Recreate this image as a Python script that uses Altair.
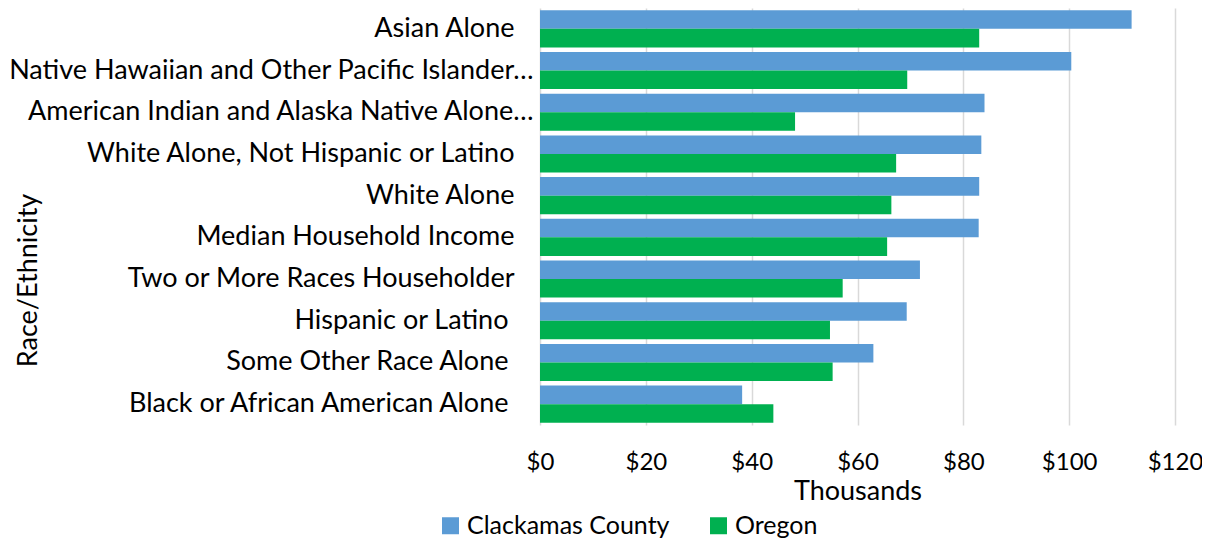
import altair as alt
import pandas as pd

categories = [
    "Asian Alone",
    "Native Hawaiian and Other Pacific Islander…",
    "American Indian and Alaska Native Alone…",
    "White Alone, Not Hispanic or Latino",
    "White Alone",
    "Median Household Income",
    "Two or More Races Householder",
    "Hispanic or Latino",
    "Some Other Race Alone",
    "Black or African American Alone",
]
clackamas = [111.8, 100.4, 84.0, 83.4, 83.0, 82.9, 71.8, 69.3, 63.0, 38.2]
oregon = [83.0, 69.4, 48.2, 67.3, 66.4, 65.6, 57.2, 54.8, 55.3, 44.1]
series = ["Clackamas County", "Oregon"]
colors = ["#5B9BD5", "#00B050"]
x_ticks = [0, 20, 40, 60, 80, 100, 120]

truncated = ["Native Hawaiian and Other Pacific Islander…", "American Indian and Alaska Native Alone…"]
shifted = ["Hispanic or Latino", "Some Other Race Alone", "Black or African American Alone"]

rows = []
for c, a, b in zip(categories, clackamas, oregon):
    rows.append({"category": c, "series": series[0], "value": a})
    rows.append({"category": c, "series": series[1], "value": b})
df = pd.DataFrame(rows)

FONT = "Lato"

def js_list(items):
    return "[" + ",".join("'" + s + "'" for s in items) + "]"

chart = alt.Chart(df).mark_bar().encode(
    y=alt.Y(
        "category:N",
        sort=categories,
        scale=alt.Scale(paddingInner=0.11, paddingOuter=0.055),
        axis=alt.Axis(
            title="Race/Ethnicity",
            titleFont=FONT,
            titleFontSize=27,
            titleFontWeight="normal",
            titleColor="#000000",
            titleX=-512,
            titleY=272,
            titleAngle=270,
            titleAlign="center",
            titleBaseline="middle",
            labelFont=FONT,
            labelFontSize=27,
            labelColor="#000000",
            labelLimit=1000,
            labelPadding={
                "condition": [
                    {"test": "indexof(" + js_list(truncated) + ", datum.value) >= 0", "value": 7},
                    {"test": "indexof(" + js_list(shifted) + ", datum.value) >= 0", "value": 32},
                ],
                "value": 26,
            },
            domain=False,
            ticks=False,
            grid=False,
        ),
    ),
    yOffset=alt.YOffset("series:N", sort=series),
    x=alt.X(
        "value:Q",
        scale=alt.Scale(domain=[0, 120], nice=False),
        axis=alt.Axis(
            values=x_ticks,
            labelExpr="'$' + datum.value",
            title="Thousands",
            titleFont=FONT,
            titleFontSize=27,
            titleFontWeight="normal",
            titleColor="#000000",
            titlePadding=4,
            labelFont=FONT,
            labelFontSize=24,
            labelColor="#000000",
            labelPadding=25,
            labelFlush=False,
            domain=False,
            ticks=False,
            grid=True,
            gridColor="#D9D9D9",
            gridWidth=1.5,
        ),
    ),
    color=alt.Color(
        "series:N",
        scale=alt.Scale(domain=series, range=colors),
        legend=alt.Legend(
            title=None,
            orient="none",
            legendX=-102,
            legendY=505,
            direction="horizontal",
            symbolType="square",
            symbolSize=289,
            symbolStrokeWidth=0,
            labelFont=FONT,
            labelFontSize=25,
            labelColor="#000000",
            labelLimit=1000,
            labelOffset=4,
            columnPadding=36,
            padding=0,
        ),
    ),
).properties(
    width=635,
    height=417,
    autosize=alt.AutoSizeParams(type="none"),
    padding={"left": 532, "top": 0, "right": 27, "bottom": 115},
).configure_view(stroke=None)

chart.save("out.html", embed_options={"renderer": "svg", "actions": False})
